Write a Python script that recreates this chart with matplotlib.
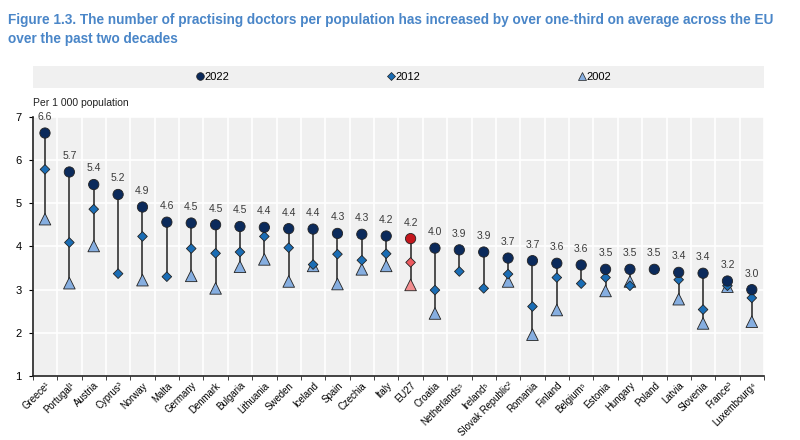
import matplotlib.pyplot as plt
import matplotlib.patches as mpatches
from matplotlib.lines import Line2D
import numpy as np

plt.rcParams['font.family'] = ['Liberation Sans', 'DejaVu Sans']

countries = ["Greece¹", "Portugal¹", "Austria", "Cyprus³", "Norway", "Malta", "Germany",
             "Denmark", "Bulgaria", "Lithuania", "Sweden", "Iceland", "Spain", "Czechia",
             "Italy", "EU27", "Croatia", "Netherlands⁵", "Ireland⁵", "Slovak Republic²",
             "Romania", "Finland", "Belgium⁵", "Estonia", "Hungary", "Poland", "Latvia",
             "Slovenia", "France³", "Luxembourg⁴"]

y2022 = [6.62, 5.72, 5.43, 5.20, 4.91, 4.56, 4.54, 4.50, 4.46, 4.44, 4.41, 4.40, 4.30, 4.28,
         4.24, 4.18, 3.96, 3.92, 3.87, 3.73, 3.67, 3.61, 3.57, 3.47, 3.47, 3.47, 3.40,
         3.38, 3.20, 3.00]
y2012 = [5.78, 4.09, 4.86, 3.37, 4.23, 3.30, 3.95, 3.84, 3.87, 4.23, 3.97, 3.58, 3.82, 3.68,
         3.83, 3.63, 2.99, 3.42, 3.03, 3.36, 2.61, 3.28, 3.14, 3.28, 3.09, np.nan, 3.23,
         2.54, 3.09, 2.81]
y2002 = [4.63, 3.15, 4.01, np.nan, 3.22, np.nan, 3.32, 3.03, 3.53, 3.70, 3.19, 3.55, 3.13, 3.47,
         3.55, 3.11, 2.45, np.nan, np.nan, 3.19, 1.96, 2.53, np.nan, 2.97, 3.19, np.nan, 2.78,
         2.22, 3.07, 2.26]
highlight = "EU27"

title_color = "#4a86c8"
c22, c12, c02 = "#0b2a5b", "#1a6db5", "#86aee0"
r22, r12, r02 = "#c4161c", "#ee5a5f", "#f28d8f"

fig = plt.figure(figsize=(8, 4.4), dpi=100)
ax = fig.add_axes([0.041, 0.145, 0.914, 0.59])
ax.set_facecolor("#f0f0f0")

x = np.arange(len(countries))
a22 = np.array(y2022)
a12 = np.array(y2012)
a02 = np.array(y2002)
lo = np.nanmin(np.vstack([a22, a12, a02]), axis=0)
hi = np.nanmax(np.vstack([a22, a12, a02]), axis=0)

ax.vlines(x, lo, hi, color="#404040", lw=1.3, zorder=2)
hl = np.array([c == highlight for c in countries])
col22 = [r22 if h else c22 for h in hl]
col12 = [r12 if h else c12 for h in hl]
col02 = [r02 if h else c02 for h in hl]
ax.scatter(x, a02, marker="^", s=70, c=col02, edgecolors="#222222", linewidths=0.6, zorder=3)
ax.scatter(x, a12, marker="D", s=24, c=col12, edgecolors="#222222", linewidths=0.6, zorder=4)
ax.scatter(x, a22, marker="o", s=55, c=col22, edgecolors="#222222", linewidths=0.6, zorder=5)

for xi, v in zip(x, a22):
    ax.annotate(f"{v:.1f}", (xi, v), xytext=(0, 8), textcoords="offset points",
                ha="center", va="bottom", fontsize=7.5, color="#3a3a3a")

ax.set_xlim(-0.5, len(countries) - 0.5)
ax.set_ylim(1, 7)
ax.set_yticks(range(1, 8))
ax.set_xticks(x)
ax.set_xticklabels(countries, rotation=45, ha="right", rotation_mode="anchor", fontsize=6.9)
ax.set_xticks(np.arange(-0.5, len(countries)), minor=True)
ax.tick_params(axis="x", which="major", length=0, pad=3)
ax.tick_params(axis="x", which="minor", length=3, color="#222222")
ax.tick_params(axis="y", length=3, labelsize=8, pad=5)
ax.grid(True, which="minor", axis="x", color="white", lw=1.2)
ax.grid(True, which="major", axis="y", color="white", lw=1.2)
ax.set_axisbelow(True)
for s in ["top", "right"]:
    ax.spines[s].set_visible(False)
for s in ["left", "bottom"]:
    ax.spines[s].set_color("#222222")
    ax.spines[s].set_linewidth(1.2)

ax.text(0, 1.035, "Per 1 000 population", transform=ax.transAxes, fontsize=7.5,
        ha="left", va="bottom", color="#222222")

# legend band
fig.patches.append(mpatches.Rectangle((0.041, 0.8), 0.914, 0.05, transform=fig.transFigure,
                                      facecolor="#f0f0f0", edgecolor="none", zorder=0))
handles = [
    Line2D([], [], marker="o", ls="none", color=c22, mec="#222222", mew=0.5, ms=5.5),
    Line2D([], [], marker="D", ls="none", color=c12, mec="#222222", mew=0.5, ms=4),
    Line2D([], [], marker="^", ls="none", color=c02, mec="#222222", mew=0.5, ms=5.5),
]
fig.legend(handles, ["2022", "2012", "2002"], loc="center left", ncol=3, mode="expand",
           bbox_to_anchor=(0.24, 0.8, 0.53, 0.05), frameon=False, fontsize=8,
           handlelength=0.6, handletextpad=0.15, borderaxespad=0)

fig.text(0.01, 0.97, "Figure 1.3. The number of practising doctors per population has increased by over one-third on average across the EU\nover the past two decades",
         ha="left", va="top", fontsize=9.8, fontweight="bold", color=title_color, linespacing=1.45)

fig.savefig("out.png", dpi=100)
